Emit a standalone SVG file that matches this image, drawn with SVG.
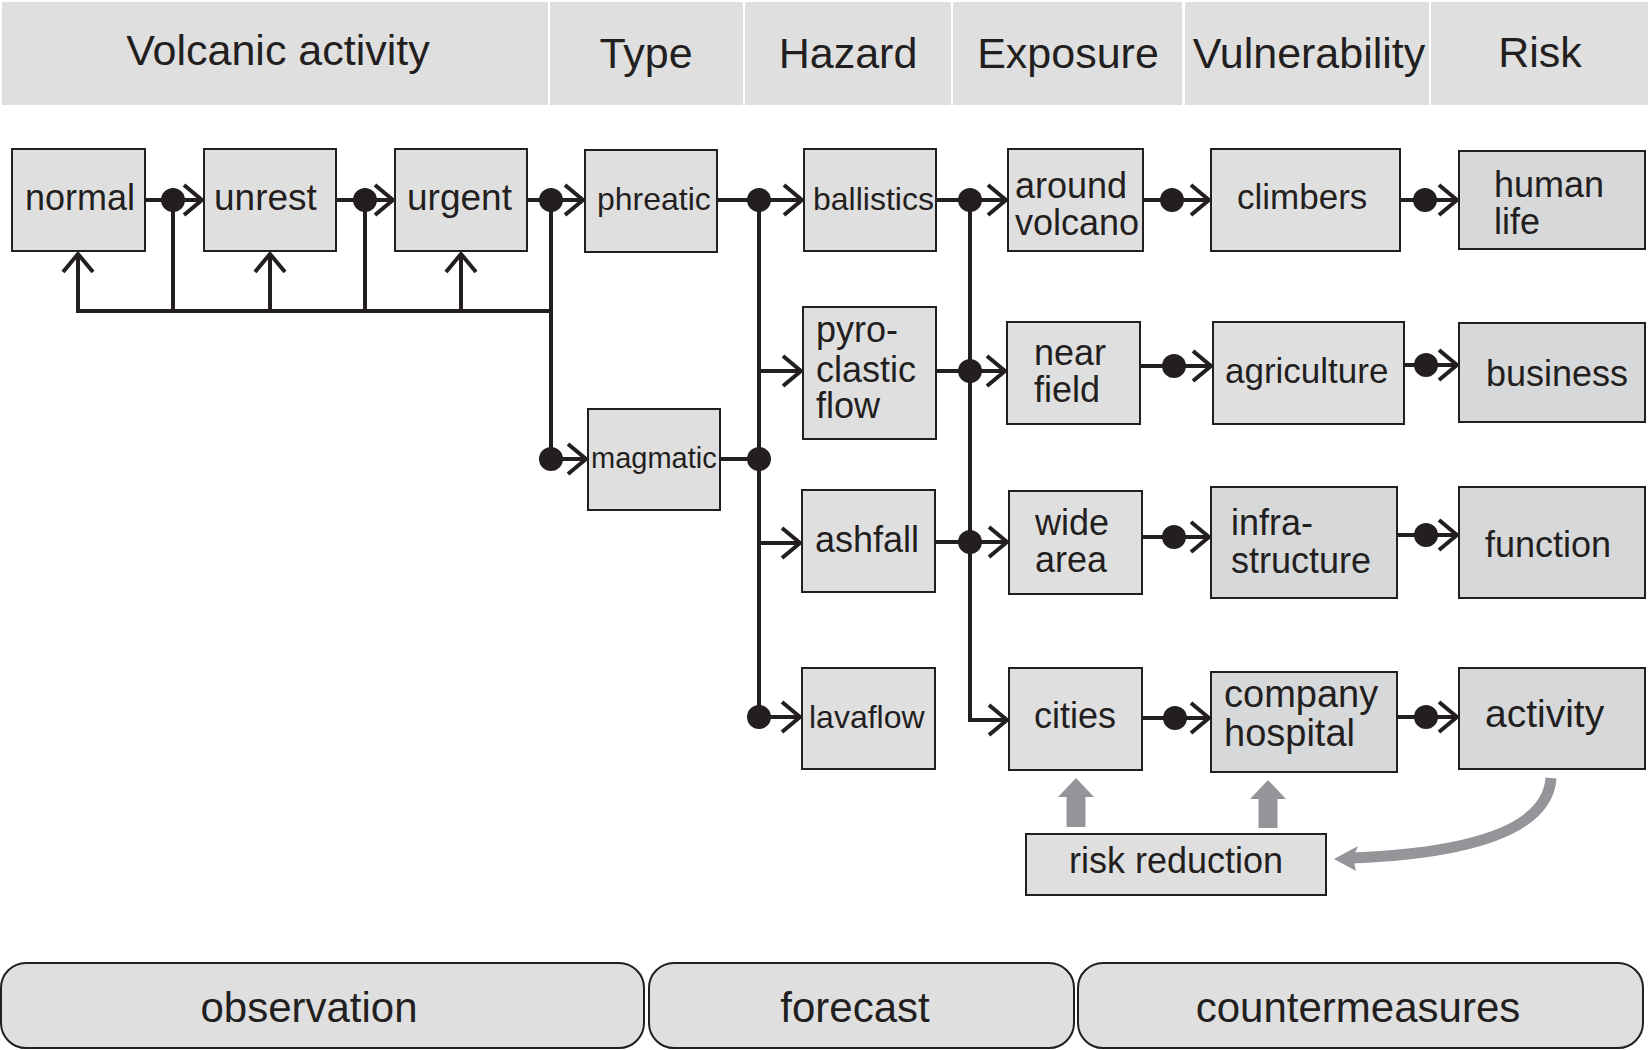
<svg xmlns="http://www.w3.org/2000/svg" width="1651" height="1050" viewBox="0 0 1651 1050">
<defs>
<style>
.hdr{fill:#e0dfe0;stroke:none}
.ht{font-family:"Liberation Sans",Arial,sans-serif;font-size:43px;fill:#231f20;text-anchor:middle}
.box{fill:#e0dfe0;stroke:#231f20;stroke-width:2}
.box2{fill:#d7d8da;stroke:#231f20;stroke-width:2}
.t{font-family:"Liberation Sans",Arial,sans-serif;font-size:36px;fill:#231f20}
.c{fill:none;stroke:#231f20;stroke-width:4}
.dot{fill:#231f20}
.bt{font-family:"Liberation Sans",Arial,sans-serif;font-size:42px;fill:#231f20;text-anchor:middle}
.gray{fill:#939598}
</style>
<marker id="chev" markerUnits="userSpaceOnUse" viewBox="-22 -18 26 36" markerWidth="26" markerHeight="36" refX="0" refY="0" orient="auto">
<path d="M-18,-15 L0,0 L-18,15" fill="none" stroke="#231f20" stroke-width="4"/>
</marker>
</defs>

<g id="header">
<rect class="hdr" x="2" y="2" width="546" height="103"/>
<rect class="hdr" x="550" y="2" width="193" height="103"/>
<rect class="hdr" x="745" y="2" width="206" height="103"/>
<rect class="hdr" x="953" y="2" width="229" height="103"/>
<rect class="hdr" x="1185" y="2" width="244" height="103"/>
<rect class="hdr" x="1431" y="2" width="217" height="103"/>
<text class="ht" x="278" y="65">Volcanic activity</text>
<text class="ht" x="646" y="68">Type</text>
<text class="ht" x="848" y="68">Hazard</text>
<text class="ht" x="1068" y="68">Exposure</text>
<text class="ht" x="1309" y="68">Vulnerability</text>
<text class="ht" x="1540" y="67">Risk</text>
</g>

<g id="connectors">
<!-- row 1 -->
<line class="c" x1="145" y1="200" x2="202" y2="200" marker-end="url(#chev)"/>
<line class="c" x1="336" y1="200" x2="393" y2="200" marker-end="url(#chev)"/>
<line class="c" x1="527" y1="200" x2="583" y2="200" marker-end="url(#chev)"/>
<line class="c" x1="717" y1="200" x2="802" y2="200" marker-end="url(#chev)"/>
<line class="c" x1="936" y1="200" x2="1006" y2="200" marker-end="url(#chev)"/>
<line class="c" x1="1143" y1="200" x2="1209" y2="200" marker-end="url(#chev)"/>
<line class="c" x1="1400" y1="200" x2="1457" y2="200" marker-end="url(#chev)"/>
<!-- feedback -->
<polyline class="c" points="78,311 551,311"/>
<line class="c" x1="173" y1="200" x2="173" y2="311"/>
<line class="c" x1="365" y1="200" x2="365" y2="311"/>
<line class="c" x1="78" y1="313" x2="78" y2="254" marker-end="url(#chev)"/>
<line class="c" x1="270" y1="311" x2="270" y2="254" marker-end="url(#chev)"/>
<line class="c" x1="461" y1="311" x2="461" y2="254" marker-end="url(#chev)"/>
<!-- type split -->
<line class="c" x1="551" y1="200" x2="551" y2="459"/>
<line class="c" x1="551" y1="459" x2="586" y2="459" marker-end="url(#chev)"/>
<line class="c" x1="720" y1="459" x2="759" y2="459"/>
<!-- hazard bus -->
<line class="c" x1="759" y1="200" x2="759" y2="717"/>
<line class="c" x1="759" y1="371" x2="801" y2="371" marker-end="url(#chev)"/>
<line class="c" x1="759" y1="543" x2="800" y2="543" marker-end="url(#chev)"/>
<line class="c" x1="759" y1="717" x2="800" y2="717" marker-end="url(#chev)"/>
<!-- exposure bus -->
<polyline class="c" points="970,200 970,720 1007,720" marker-end="url(#chev)"/>
<line class="c" x1="936" y1="371" x2="1005" y2="371" marker-end="url(#chev)"/>
<line class="c" x1="935" y1="542" x2="1007" y2="542" marker-end="url(#chev)"/>
<!-- exposure to vulnerability to risk -->
<line class="c" x1="1140" y1="366" x2="1211" y2="366" marker-end="url(#chev)"/>
<line class="c" x1="1404" y1="365" x2="1457" y2="365" marker-end="url(#chev)"/>
<line class="c" x1="1142" y1="537" x2="1209" y2="537" marker-end="url(#chev)"/>
<line class="c" x1="1397" y1="535" x2="1457" y2="535" marker-end="url(#chev)"/>
<line class="c" x1="1142" y1="718" x2="1209" y2="718" marker-end="url(#chev)"/>
<line class="c" x1="1397" y1="717" x2="1457" y2="717" marker-end="url(#chev)"/>
<!-- dots -->
<circle class="dot" cx="173" cy="200" r="12"/>
<circle class="dot" cx="365" cy="200" r="12"/>
<circle class="dot" cx="551" cy="200" r="12"/>
<circle class="dot" cx="759" cy="200" r="12"/>
<circle class="dot" cx="970" cy="200" r="12"/>
<circle class="dot" cx="1172" cy="200" r="12"/>
<circle class="dot" cx="1425" cy="200" r="12"/>
<circle class="dot" cx="551" cy="459" r="12"/>
<circle class="dot" cx="759" cy="459" r="12"/>
<circle class="dot" cx="759" cy="717" r="12"/>
<circle class="dot" cx="970" cy="371" r="12"/>
<circle class="dot" cx="970" cy="542" r="12"/>
<circle class="dot" cx="1174" cy="366" r="12"/>
<circle class="dot" cx="1426" cy="365" r="12"/>
<circle class="dot" cx="1174" cy="537" r="12"/>
<circle class="dot" cx="1426" cy="535" r="12"/>
<circle class="dot" cx="1175" cy="718" r="12"/>
<circle class="dot" cx="1426" cy="717" r="12"/>
<!-- gray arrows -->
<polygon class="gray" points="1066.5,827 1066.5,797 1058,797 1076,778 1094,797 1085.5,797 1085.5,827"/>
<polygon class="gray" points="1258.5,828 1258.5,799 1250,799 1268,780 1286,799 1277.5,799 1277.5,828"/>
<path d="M1551,778 Q1546,850 1352,858" fill="none" stroke="#939598" stroke-width="11"/>
<polygon class="gray" points="1334,859 1358,846 1353,858 1356,871"/>
</g>

<g id="n-normal"><rect class="box" x="12" y="149" width="133" height="102"/><text class="t" x="25" y="210">normal</text></g>
<g id="n-unrest"><rect class="box" x="204" y="149" width="132" height="102"/><text class="t" x="214" y="210" style="font-size:37px">unrest</text></g>
<g id="n-urgent"><rect class="box" x="395" y="149" width="132" height="102"/><text class="t" x="407" y="210" style="font-size:37px">urgent</text></g>
<g id="n-phreatic"><rect class="box" x="585" y="150" width="132" height="102"/><text class="t" x="597" y="210" style="font-size:32px">phreatic</text></g>
<g id="n-magmatic"><rect class="box" x="588" y="409" width="132" height="101"/><text class="t" x="591" y="468" style="font-size:29px">magmatic</text></g>
<g id="n-ballistics"><rect class="box" x="804" y="149" width="132" height="102"/><text class="t" x="813" y="210" style="font-size:32px">ballistics</text></g>
<g id="n-pyroclastic"><rect class="box" x="803" y="307" width="133" height="132"/><text class="t"><tspan x="816" y="342">pyro-</tspan><tspan x="816" y="382">clastic</tspan><tspan x="816" y="418">flow</tspan></text></g>
<g id="n-ashfall"><rect class="box" x="802" y="490" width="133" height="102"/><text class="t" x="815" y="552">ashfall</text></g>
<g id="n-lavaflow"><rect class="box" x="802" y="668" width="133" height="101"/><text class="t" x="809" y="728" style="font-size:32px">lavaflow</text></g>
<g id="n-around"><rect class="box" x="1008" y="149" width="135" height="102"/><text class="t"><tspan x="1015" y="198">around</tspan><tspan x="1015" y="235">volcano</tspan></text></g>
<g id="n-near"><rect class="box" x="1007" y="322" width="133" height="102"/><text class="t"><tspan x="1034" y="365">near</tspan><tspan x="1034" y="402">field</tspan></text></g>
<g id="n-wide"><rect class="box" x="1009" y="491" width="133" height="103"/><text class="t"><tspan x="1035" y="535">wide</tspan><tspan x="1035" y="572">area</tspan></text></g>
<g id="n-cities"><rect class="box" x="1009" y="668" width="133" height="102"/><text class="t" x="1034" y="728">cities</text></g>
<g id="n-climbers"><rect class="box" x="1211" y="149" width="189" height="102"/><text class="t" x="1237" y="209" style="font-size:35px">climbers</text></g>
<g id="n-agriculture"><rect class="box" x="1213" y="322" width="191" height="102"/><text class="t" x="1225" y="383" style="font-size:35px">agriculture</text></g>
<g id="n-infra"><rect class="box2" x="1211" y="487" width="186" height="111"/><text class="t"><tspan x="1231" y="535">infra-</tspan><tspan x="1231" y="573">structure</tspan></text></g>
<g id="n-company"><rect class="box2" x="1211" y="672" width="186" height="100"/><text class="t" style="font-size:38px"><tspan x="1224" y="707">company</tspan><tspan x="1224" y="746">hospital</tspan></text></g>
<g id="n-human"><rect class="box2" x="1459" y="151" width="186" height="98"/><text class="t"><tspan x="1494" y="197">human</tspan><tspan x="1494" y="234">life</tspan></text></g>
<g id="n-business"><rect class="box2" x="1459" y="323" width="186" height="99"/><text class="t" x="1486" y="386">business</text></g>
<g id="n-function"><rect class="box2" x="1459" y="487" width="186" height="111"/><text class="t" x="1485" y="557">function</text></g>
<g id="n-activity"><rect class="box2" x="1459" y="668" width="186" height="101"/><text class="t" x="1485" y="727" style="font-size:39px">activity</text></g>
<g id="n-riskreduction"><rect class="box" x="1026" y="834" width="300" height="61"/><text class="t" x="1176" y="873" text-anchor="middle">risk reduction</text></g>

<g id="footer">
<rect class="box" x="1" y="963" width="643" height="85" rx="25" ry="25" stroke-width="1.5"/>
<rect class="box" x="649" y="963" width="425" height="85" rx="25" ry="25" stroke-width="1.5"/>
<rect class="box" x="1078" y="963" width="565" height="85" rx="25" ry="25" stroke-width="1.5"/>
<text class="bt" x="309" y="1022">observation</text>
<text class="bt" x="855" y="1022">forecast</text>
<text class="bt" x="1358" y="1022">countermeasures</text>
</g>
</svg>
